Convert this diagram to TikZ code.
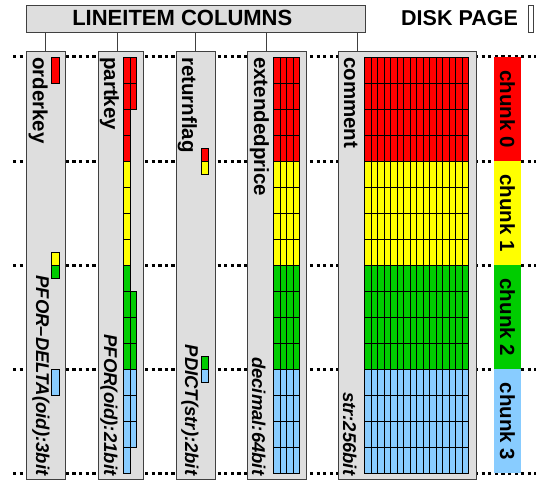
\documentclass[tikz,border=0pt]{standalone}
\usepackage{fontspec}
\setmainfont{Liberation Sans}
\definecolor{ck0}{RGB}{255,0,0}
\definecolor{ck1}{RGB}{255,255,0}
\definecolor{ck2}{RGB}{0,204,0}
\definecolor{ck3}{RGB}{136,204,255}
\definecolor{boxgray}{RGB}{222,222,222}
\definecolor{edge}{RGB}{64,64,64}
\def\rh{26.03}
\begin{document}
\begin{tikzpicture}[x=1pt,y=-1pt,
  colbox/.style={draw=edge, line width=0.8pt, fill=boxgray, inner sep=0pt,
    minimum height=428pt, anchor=north west},
  cell/.style={draw=black, line width=0.6pt},
  sep/.style={line width=3pt, dash pattern=on 3.3pt off 3.3pt},
  head/.style={font=\fontsize{20.5}{22}\selectfont\bfseries, rotate=-90,
    inner sep=0pt, anchor=base west},
  codec/.style={font=\fontsize{18.5}{20}\selectfont\bfseries\itshape, rotate=-90,
    inner sep=0pt, anchor=base east},
  chunkbar/.style={font=\fontsize{20.5}{22}\selectfont\bfseries, rotate=-90,
    inner sep=0pt, minimum width=104.12pt, minimum height=27pt},
  link/.style={draw=edge, line width=0.8pt}]
\useasboundingbox (0,0) rectangle (542,481);

% chunk boundaries
\foreach \i in {0,...,4}
  \draw[sep] (13,{57+\i*4*\rh}) -- (536,{57+\i*4*\rh});

% column boxes
\node[colbox, minimum width=39pt]  (ok) at (26,51)  {};
\node[colbox, minimum width=45pt]  (pk) at (98,51)  {};
\node[colbox, minimum width=39pt]  (rf) at (176,51) {};
\node[colbox, minimum width=59pt]  (ep) at (247,51) {};
\node[colbox, minimum width=138pt] (cm) at (338,51) {};

% orderkey values
\filldraw[cell, fill=ck0] (51.7,57) rectangle ++(7.3,\rh);
\filldraw[cell, fill=ck1] (51.7,{57+8*\rh-\rh/2}) rectangle ++(7.3,{\rh/2});
\filldraw[cell, fill=ck2] (51.7,{57+8*\rh}) rectangle ++(7.3,{\rh/2});
\filldraw[cell, fill=ck3] (51.7,{57+12*\rh}) rectangle ++(7.3,\rh);

% partkey values
\foreach \r in {0,...,15} {
  \pgfmathtruncatemacro\k{\r/4}
  \filldraw[cell, fill=ck\k] (123.3,{57+\r*\rh}) rectangle ++(6.7,\rh);
}
\foreach \r in {0,1,9,10,11,12,13,14} {
  \pgfmathtruncatemacro\k{\r/4}
  \filldraw[cell, fill=ck\k] (130,{57+\r*\rh}) rectangle ++(6.7,\rh);
}

% returnflag values
\filldraw[cell, fill=ck0] (201.7,{57+4*\rh-\rh/2}) rectangle ++(7,{\rh/2});
\filldraw[cell, fill=ck1] (201.7,{57+4*\rh}) rectangle ++(7,{\rh/2});
\filldraw[cell, fill=ck2] (201.7,{57+12*\rh-\rh/2}) rectangle ++(7,{\rh/2});
\filldraw[cell, fill=ck3] (201.7,{57+12*\rh}) rectangle ++(7,{\rh/2});

% extendedprice values
\foreach \c in {0,...,3}
  \foreach \r in {0,...,15} {
    \pgfmathtruncatemacro\k{\r/4}
    \filldraw[cell, fill=ck\k] ({273.3+6.5*\c},{57+\r*\rh}) rectangle ++(6.5,\rh);
  }

% comment values
\foreach \c in {0,...,15}
  \foreach \r in {0,...,15} {
    \pgfmathtruncatemacro\k{\r/4}
    \filldraw[cell, fill=ck\k] ({364.3+6.5*\c},{57+\r*\rh}) rectangle ++(6.5,\rh);
  }

% column names
\node[head] (okname) at (33,57)  {orderkey};
\node[head] (pkname) at (104,57) {partkey};
\node[head] (rfname) at (182,57) {returnflag};
\node[head] (epname) at (254,57) {extendedprice};
\node[head] (cmname) at (344,57) {comment};

% encodings
\node[codec] (okcodec) at (36,475.5)  {PFOR–DELTA(oid):3bit};
\node[codec] (pkcodec) at (104,475.5) {PFOR(oid):21bit};
\node[codec] (rfcodec) at (185,475.5) {PDICT(str):2bit};
\node[codec] (epcodec) at (252,475.5) {decimal:64bit};
\node[codec] (cmcodec) at (343,475.5) {str:256bit};

% chunks
\foreach \i in {0,...,3}
  \node[chunkbar, fill=ck\i] (chunk\i) at (507.5,{57+(4*\i+2)*\rh}) {chunk \i};

% header
\node[draw=edge, line width=0.8pt, fill=boxgray, inner sep=0pt,
  minimum width=339pt, minimum height=27pt, anchor=north west] (title) at (26,5) {};
\node[font=\fontsize{22}{24}\selectfont\bfseries, anchor=base, inner sep=0pt]
  (titletext) at (182.3,26) {LINEITEM COLUMNS};
\node[font=\fontsize{21.5}{24}\selectfont\bfseries, anchor=base west, inner sep=0pt]
  (disk) at (401,26) {DISK PAGE};
\node[draw=edge, line width=0.8pt, fill=white, inner sep=0pt,
  minimum width=5pt, minimum height=27pt, anchor=north west] (page) at (528,5) {};

% links from header to columns
\coordinate (k1) at (45,51);
\coordinate (k2) at (117.5,51);
\coordinate (k3) at (195.7,51);
\coordinate (k4) at (266.5,51);
\coordinate (k5) at (357.8,51);
\foreach \k in {k1,k2,k3,k4,k5}
  \draw[link] (title.south -| \k) -- (\k);
\end{tikzpicture}
\end{document}
